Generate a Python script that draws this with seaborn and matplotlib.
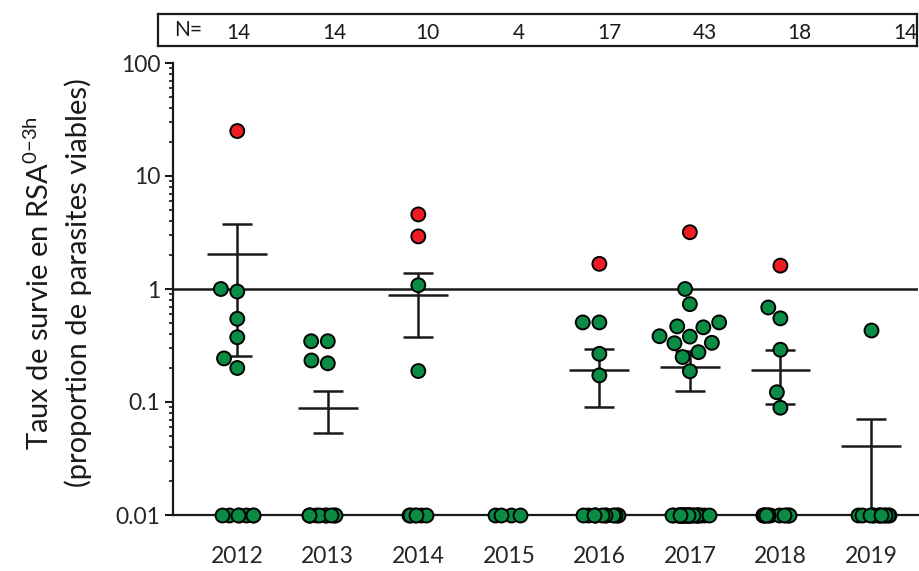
import numpy as np
import pandas as pd
import matplotlib
matplotlib.use("Agg")
import matplotlib.pyplot as plt
import seaborn as sns
from matplotlib.ticker import LogLocator, FixedLocator, FixedFormatter, NullFormatter

# ---------------- data ----------------
years = ['2012', '2013', '2014', '2015', '2016', '2017', '2018', '2019']
n_total = [14, 14, 10, 4, 17, 43, 18, 14]
green_values = [
    [1.0, 0.95, 0.545, 0.374, 0.243, 0.20],
    [0.345, 0.345, 0.233, 0.22],
    [1.08, 0.188],
    [],
    [0.506, 0.506, 0.267, 0.172],
    [1.0, 0.734, 0.506, 0.467, 0.458, 0.382, 0.379, 0.334, 0.331, 0.276, 0.25, 0.187],
    [0.686, 0.55, 0.29, 0.122, 0.089],
    [0.437],
]
red_values = [[25.0], [], [4.57, 2.92], [], [1.67], [3.18], [1.61], []]
floor_value = 0.01
ytick_values = [0.01, 0.1, 1, 10, 100]
ytick_labels = ['0.01', '0.1', '1', '10', '100']
ylabel = 'Taux de survie en RSA$^{\\mathregular{0{-}3h}}$\n(proportion de parasites viables)'

GREEN = '#0b8c45'
RED = '#ee1d23'

rows = []
for i, yr in enumerate(years):
    for v in green_values[i]:
        rows.append((yr, v, 'sensible'))
    for v in red_values[i]:
        rows.append((yr, v, 'eleve'))
    n_floor = n_total[i] - len(green_values[i]) - len(red_values[i])
    rows += [(yr, floor_value, 'plancher')] * n_floor
df = pd.DataFrame(rows, columns=['annee', 'valeur', 'groupe'])

stats = df.groupby('annee')['valeur'].agg(['mean', 'std', 'count']).reindex(years)
stats['sem'] = stats['std'].fillna(0) / np.sqrt(stats['count'])

# ---------------- style ----------------
sns.set_theme(style='white')
plt.rcParams['font.family'] = ['Lato', 'DejaVu Sans']
plt.rcParams['mathtext.fontset'] = 'custom'
plt.rcParams['mathtext.rm'] = 'Lato'
plt.rcParams['text.color'] = '#1a1a1a'

fig = plt.figure(figsize=(9.2, 5.71), dpi=100)
ax = fig.add_axes([173 / 920, 1 - 515 / 571, (918 - 173) / 920, (515 - 63) / 571])
ax.set_yscale('log')
ax.set_ylim(0.01, 100)

ax.axhline(1, color='#1a1a1a', lw=1.8, zorder=2)

xpos = np.arange(len(years))
lower = np.minimum(stats['sem'].values, stats['mean'].values - 1e-6)
ax.errorbar(xpos, stats['mean'].values, yerr=[lower, stats['sem'].values], fmt='none',
            ecolor='#1a1a1a', elinewidth=1.8, capsize=11, capthick=1.8, zorder=3)
ax.hlines(stats['mean'].values, xpos - 0.33, xpos + 0.33, colors='#1a1a1a', lw=1.8, zorder=3)

np.random.seed(3)
sns.stripplot(data=df[df.groupe == 'plancher'], x='annee', y='valeur', order=years,
              color=GREEN, jitter=0.22, size=10, edgecolor='black', linewidth=1.4,
              ax=ax, zorder=4, clip_on=False)
sns.swarmplot(data=df[df.groupe != 'plancher'], x='annee', y='valeur', order=years,
              hue='groupe', palette={'sensible': GREEN, 'eleve': RED}, size=10,
              edgecolor='black', linewidth=1.4, ax=ax, zorder=4, legend=False)

ax.set_xlim(-0.71, 7.52)
ax.set_ylim(0.01, 100)
ax.yaxis.set_major_locator(FixedLocator(ytick_values))
ax.yaxis.set_major_formatter(FixedFormatter(ytick_labels))
ax.yaxis.set_minor_locator(LogLocator(base=10, subs=np.arange(2, 10), numticks=20))
ax.yaxis.set_minor_formatter(NullFormatter())
ax.tick_params(axis='y', which='major', direction='out', length=6, width=1.5,
               color='#1a1a1a', labelsize=16.5, pad=3, left=True)
ax.tick_params(axis='y', which='minor', direction='out', length=3, width=1.2,
               color='#1a1a1a', left=True)
ax.tick_params(axis='x', length=0, labelsize=16.5, pad=22)
ax.set_xlabel('')
ax.set_ylabel('')
for s in ['top', 'right']:
    ax.spines[s].set_visible(False)
for s in ['left', 'bottom']:
    ax.spines[s].set_linewidth(1.6)
    ax.spines[s].set_color('#1a1a1a')

fig.text(58 / 920, 1 - 283 / 571, ylabel, rotation=90, ha='center', va='center',
         multialignment='center', fontsize=21, linespacing=1.45)

# N box
nax = fig.add_axes([158 / 920, 1 - 46 / 571, (917 - 158) / 920, 32 / 571])
nax.set_xticks([])
nax.set_yticks([])
nax.set_xlim(0, 1)
nax.set_ylim(0, 1)
for s in nax.spines.values():
    s.set_visible(True)
    s.set_linewidth(1.6)
    s.set_color('#1a1a1a')
n_label_pos = [0.106, 0.232, 0.355, 0.475, 0.595, 0.72, 0.845, 0.985]
nax.text(0.04, 0.5, 'N=', ha='center', va='center', fontsize=15)
for p, n in zip(n_label_pos, n_total):
    nax.text(p, 0.42, str(n), ha='center', va='center', fontsize=15)

fig.savefig('out.png', dpi=100)
